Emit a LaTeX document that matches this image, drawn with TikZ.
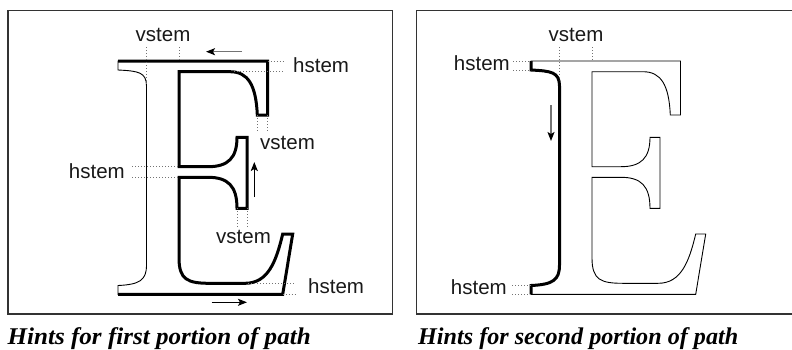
\documentclass[tikz,border=0pt]{standalone}
\usepackage{fontspec}
\setmainfont{Liberation Serif}
\setsansfont{Liberation Sans}
\usetikzlibrary{arrows.meta}
\begin{document}
\begin{tikzpicture}[x=1pt,y=-1pt,
  frame/.style={draw=black!80,line width=1.3pt},
  thinline/.style={draw=black,line width=0.9pt,line join=miter},
  thickline/.style={draw=black,line width=3pt,line join=miter,line cap=butt},
  guide/.style={draw=black!55,line width=0.8pt,dash pattern=on 0.8pt off 2.2pt},
  lbl/.style={font=\sffamily\fontsize{20.5}{24}\selectfont,inner sep=0pt,text=black!90},
  captext/.style={font=\rmfamily\bfseries\itshape\fontsize{24}{28}\selectfont,inner sep=0pt},
  hintarrow/.style={-{Stealth[length=9pt,width=7pt,inset=2pt,color=black]},line width=1.3pt},
  grayarrow/.style={hintarrow,draw=black!55}]
\useasboundingbox (0,0) rectangle (792,349);
\clip (0,0) rectangle (792,349);

% ---------- frames
\draw[frame] (8,10.7) rectangle (392.3,314);
\draw[frame] (416.7,10.7) rectangle (800,314);

% ---------- captions
\node[captext,anchor=base west] (cap1) at (7.5,344) {\resizebox{303pt}{\height}{Hints for first portion of path}};
\node[captext,anchor=base west] (cap2) at (418,344) {\resizebox{320pt}{\height}{Hints for second portion of path}};

% ================= LEFT PANEL =================
\begin{scope}
% full outline, thin
\draw[thinline] (118,61) -- (118,70) .. controls (138,71) and (146.5,72) .. (146.5,86)
  -- (146.5,265) .. controls (146.5,280) and (140,284.5) .. (118,285.5) -- (118,294.3)
  -- (282.7,294.3) -- (292.7,234) -- (282.7,234)
  .. controls (276,262) and (268,283.3) .. (245,283.3) -- (210,283.3)
  .. controls (188,283.3) and (179,280) .. (179,258) -- (179,177.3) -- (208,177.3)
  .. controls (228,177.3) and (237,186) .. (237,208.3) -- (247,208.3) -- (247,137.3) -- (237,137.3)
  .. controls (237,158) and (228,166.7) .. (208,166.7) -- (179,166.7) -- (179,71.7) -- (230,71.7)
  .. controls (248,71.7) and (256,85) .. (257.3,115) -- (267.5,115) -- (267.5,61) -- cycle;
% first portion, thick
\draw[thickline] (118,294.3)
  -- (282.7,294.3) -- (292.7,234) -- (282.7,234)
  .. controls (276,262) and (268,283.3) .. (245,283.3) -- (210,283.3)
  .. controls (188,283.3) and (179,280) .. (179,258) -- (179,177.3) -- (208,177.3)
  .. controls (228,177.3) and (237,186) .. (237,208.3) -- (247,208.3) -- (247,137.3) -- (237,137.3)
  .. controls (237,158) and (228,166.7) .. (208,166.7) -- (179,166.7) -- (179,71.7) -- (230,71.7)
  .. controls (248,71.7) and (256,85) .. (257.3,115) -- (267.5,115) -- (267.5,61) -- (118,61);

% labels
\node[lbl,anchor=base] (lv1) at (163,41) {vstem};
\node[lbl,anchor=base west] (lh1) at (293,72.5) {hstem};
\node[lbl,anchor=base west] (lv2) at (260,149) {vstem};
\node[lbl,anchor=base east] (lh2) at (125,178.3) {hstem};
\node[lbl,anchor=base] (lv3) at (243.5,243.3) {vstem};
\node[lbl,anchor=base west] (lh3) at (308,293.3) {hstem};

% guides
\coordinate (g1a) at (146.8,47); \coordinate (g1b) at (146.8,84);
\coordinate (g2a) at (179,47);   \coordinate (g2b) at (179,61);
\draw[guide] (g1a) -- (g1b);
\draw[guide] (g2a) -- (g2b);
\coordinate (g3a) at (267.5,61);  \coordinate (g3b) at (284,61);
\coordinate (g4a) at (234,71.7);  \coordinate (g4b) at (284,71.7);
\draw[guide] (g3a) -- (g3b);
\draw[guide] (g4a) -- (g4b);
\coordinate (g5a) at (257.3,115); \coordinate (g5b) at (257.3,132);
\coordinate (g6a) at (267.5,115); \coordinate (g6b) at (267.5,132);
\draw[guide] (g5a) -- (g5b);
\draw[guide] (g6a) -- (g6b);
\coordinate (g7a) at (132,166.7); \coordinate (g7b) at (179,166.7);
\coordinate (g8a) at (132,177.3); \coordinate (g8b) at (179,177.3);
\draw[guide] (g7a) -- (g7b);
\draw[guide] (g8a) -- (g8b);
\coordinate (g9a) at (237,208.3); \coordinate (g9b) at (237,227);
\coordinate (g10a) at (247,208.3); \coordinate (g10b) at (247,227);
\draw[guide] (g9a) -- (g9b);
\draw[guide] (g10a) -- (g10b);
\coordinate (g11a) at (248,283.3); \coordinate (g11b) at (295,283.3);
\coordinate (g12a) at (282.7,294.3); \coordinate (g12b) at (295,294.3);
\draw[guide] (g11a) -- (g11b);
\draw[guide] (g12a) -- (g12b);

% arrows
\coordinate (a1s) at (242,51.7); \coordinate (a1e) at (206,51.7);
\draw[grayarrow] (a1s) -- (a1e);
\coordinate (a2s) at (254.3,197); \coordinate (a2e) at (254.3,162);
\draw[hintarrow] (a2s) -- (a2e);
\coordinate (a3s) at (211.5,302.3); \coordinate (a3e) at (247,302.3);
\draw[hintarrow] (a3s) -- (a3e);
\end{scope}

% ================= RIGHT PANEL =================
\begin{scope}[xshift=413pt]
\draw[thinline] (118,61) -- (118,70) .. controls (138,71) and (146.5,72) .. (146.5,86)
  -- (146.5,265) .. controls (146.5,280) and (140,284.5) .. (118,285.5) -- (118,294.3)
  -- (282.7,294.3) -- (292.7,234) -- (282.7,234)
  .. controls (276,262) and (268,283.3) .. (245,283.3) -- (210,283.3)
  .. controls (188,283.3) and (179,280) .. (179,258) -- (179,177.3) -- (208,177.3)
  .. controls (228,177.3) and (237,186) .. (237,208.3) -- (247,208.3) -- (247,137.3) -- (237,137.3)
  .. controls (237,158) and (228,166.7) .. (208,166.7) -- (179,166.7) -- (179,71.7) -- (230,71.7)
  .. controls (248,71.7) and (256,85) .. (257.3,115) -- (267.5,115) -- (267.5,61) -- cycle;
% second portion, thick
\draw[thickline] (118,61) -- (118,70) .. controls (138,71) and (146.5,72) .. (146.5,86)
  -- (146.5,265) .. controls (146.5,280) and (140,284.5) .. (118,285.5) -- (118,294.3);

\node[lbl,anchor=base] (rv1) at (163,41) {vstem};
\node[lbl,anchor=base east] (rh1) at (97,70) {hstem};
\node[lbl,anchor=base east] (rh2) at (94,294) {hstem};

\coordinate (r1a) at (146.8,47); \coordinate (r1b) at (146.8,80);
\coordinate (r2a) at (179,47);   \coordinate (r2b) at (179,61);
\draw[guide] (r1a) -- (r1b);
\draw[guide] (r2a) -- (r2b);
\coordinate (r3a) at (100,61); \coordinate (r3b) at (118,61);
\coordinate (r4a) at (100,70); \coordinate (r4b) at (118,70);
\draw[guide] (r3a) -- (r3b);
\draw[guide] (r4a) -- (r4b);
\coordinate (r5a) at (99,285.5); \coordinate (r5b) at (118,285.5);
\coordinate (r6a) at (99,294.3); \coordinate (r6b) at (118,294.3);
\draw[guide] (r5a) -- (r5b);
\draw[guide] (r6a) -- (r6b);

\coordinate (b1s) at (138,105); \coordinate (b1e) at (138,141);
\draw[grayarrow] (b1s) -- (b1e);
\end{scope}
\end{tikzpicture}
\end{document}
